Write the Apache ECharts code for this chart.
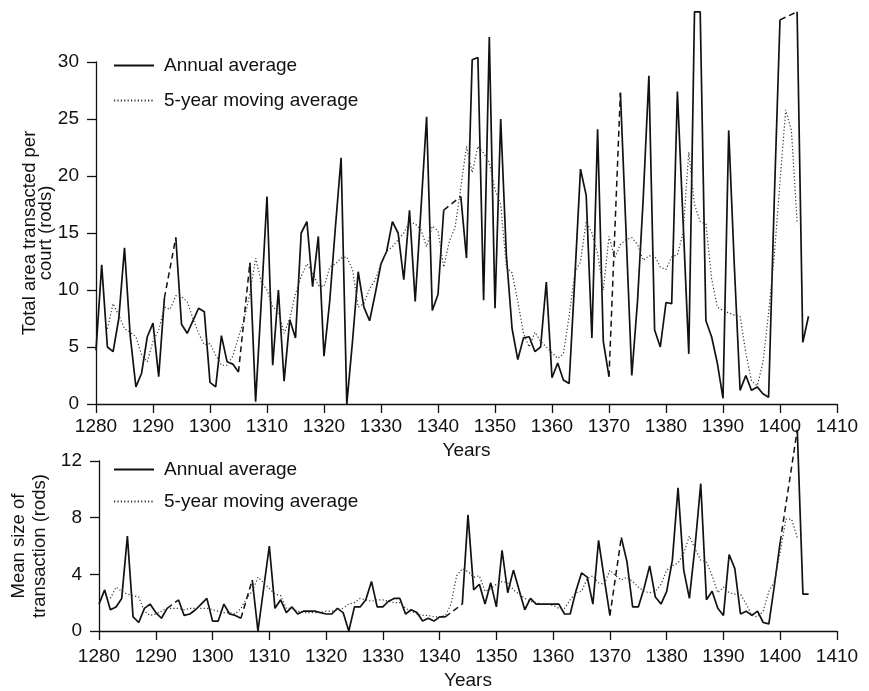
<!DOCTYPE html>
<html>
<head>
<meta charset="utf-8">
<script src="https://cdn.jsdelivr.net/npm/echarts@6/dist/echarts.min.js"></script>
<style>
  html, body { margin: 0; padding: 0; background: #fff; }
  #chart { width: 869px; height: 691px; }
</style>
</head>
<body>
<div id="chart"></div>
<script>
// Years covered by the court rolls series
const years = Array.from({ length: 126 }, (_, i) => 1280 + i);

// Total area transacted per court (rods), annual average; null = no data for that year
const areaAnnual = [
  4.7, 12.2, 5.0, 4.6, 7.5, 13.7, 6.0, 1.5, 2.7, 5.9,
  7.1, 2.4, 9.3, null, 14.6, 7.0, 6.2, 7.3, 8.4, 8.1,
  1.9, 1.5, 6.0, 3.7, 3.5, 2.8, null, 12.4, 0.2, 9.0,
  18.2, 3.4, 10.0, 2.0, 7.4, 5.8, 15.0, 16.0, 10.3, 14.7,
  4.2, 9.0, 15.5, 21.6, 0, 5.5, 11.6, 8.5, 7.3, 9.7,
  12.3, 13.4, 16.0, 15.0, 10.9, 17.0, 9.0, 17.0, 25.2, 8.2,
  9.6, 17.0, null, null, 18.2, 12.8, 30.2, 30.4, 9.1, 32.2,
  8.4, 25.0, 13.0, 6.6, 3.9, 5.8, 5.9, 4.6, 5.0, 10.7,
  2.3, 3.6, 2.1, 1.8, 11.0, 20.6, 18.3, 5.8, 24.1, 5.5,
  2.4, null, 27.3, 15.0, 2.5, 9.0, 18.0, 28.8, 6.5, 5.0,
  8.9, 8.8, 27.4, 16.0, 4.4, 34.4, 34.4, 7.3, 5.9, 3.6,
  0.5, 24.0, 12.0, 1.2, 2.5, 1.2, 1.5, 0.9, 0.6, 18.0,
  33.7, null, null, 34.4, 5.4, 7.7
];

// Total area, 5-year moving average (centred)
const areaMoving = [
  null, null, 6.6, 8.8, 7.8, 6.6, 6.3, 5.9, 4.3, 3.7,
  5.5, 6.5, 8.5, 8.3, 9.5, 9.4, 9.0, 7.5, 6.2, 5.2,
  5.3, 4.3, 3.4, 3.4, 4.2, 5.9, 7.4, 9.7, 12.8, 10.7,
  10.0, 8.5, 8.1, 6.2, 7.5, 9.7, 11.2, 12.3, 11.5, 10.4,
  10.3, 12.0, 12.3, 12.8, 12.9, 11.8, 8.5, 8.8, 10.1, 10.9,
  12.3, 13.4, 13.8, 14.4, 15.0, 16.0, 15.8, 15.3, 13.8, 15.6,
  15.2, 12.0, 14.3, 15.5, 19.0, 22.6, 20.3, 22.6, 22.0, 21.2,
  18.8, 17.5, 12.0, 11.5, 9.0, 6.2, 5.0, 6.3, 5.5, 5.0,
  4.5, 4.0, 4.4, 7.7, 11.5, 12.5, 16.0, 15.0, 13.2, 10.0,
  14.7, 12.8, 14.0, 14.4, 14.6, 14.0, 12.6, 13.0, 13.0, 12.0,
  11.8, 12.9, 13.1, 15.0, 22.1, 17.5, 16.0, 15.8, 11.0, 8.5,
  8.2, 8.0, 7.8, 7.7, 4.5, 2.0, 1.6, 3.6, 8.0, 13.0,
  19.5, 25.8, 24.0, 16.0, null, null
];

// Mean size of transaction (rods), annual average
const sizeAnnual = [
  1.9, 2.9, 1.5, 1.7, 2.3, 6.7, 1.0, 0.6, 1.6, 1.9,
  1.3, 0.9, 1.6, null, 2.2, 1.1, 1.2, 1.5, 1.9, 2.3,
  0.7, 0.7, 1.9, 1.2, 1.1, 0.9, null, 3.6, 0.0, 3.0,
  6.0, 1.6, 2.2, 1.3, 1.7, 1.2, 1.4, 1.4, 1.4, 1.3,
  1.2, 1.2, 1.6, 1.3, 0.0, 1.7, 1.7, 2.2, 3.5, 1.7,
  1.7, 2.1, 2.3, 2.3, 1.2, 1.5, 1.3, 0.7, 0.9, 0.7,
  1.0, 1.0, null, null, 1.9, 8.2, 2.9, 3.3, 1.9, 3.4,
  1.7, 5.7, 2.7, 4.3, 2.9, 1.5, 2.3, 1.9, 1.9, 1.9,
  1.9, 1.9, 1.2, 1.2, 2.8, 4.1, 3.8, 1.9, 6.4, 3.7,
  1.1, null, 6.6, 4.9, 1.7, 1.7, 3.0, 4.6, 2.4, 1.9,
  2.8, 5.0, 10.1, 4.3, 2.3, 6.0, 10.4, 2.2, 2.8, 1.6,
  1.1, 5.4, 4.4, 1.2, 1.4, 1.1, 1.4, 0.6, 0.5, 3.3,
  6.3, null, null, 14.2, 2.6, 2.6
];

// Mean size of transaction, 5-year moving average
const sizeMoving = [
  null, null, 2.3, 3.1, 2.8, 2.6, 2.5, 2.4, 1.4, 1.1,
  1.2, 1.4, 1.6, 1.6, 1.6, 1.5, 1.6, 1.6, 1.6, 1.6,
  1.5, 1.4, 1.3, 1.3, 1.2, 1.6, 2.3, 2.8, 3.8, 3.4,
  3.0, 2.6, 2.5, 1.6, 1.6, 1.4, 1.3, 1.3, 1.3, 1.3,
  1.4, 1.4, 1.5, 1.6, 1.9, 2.0, 2.3, 2.2, 2.1, 2.2,
  2.2, 2.1, 2.0, 2.0, 1.6, 1.4, 1.2, 1.1, 1.1, 1.0,
  1.0, 1.1, 1.9, 3.9, 4.4, 4.2, 3.8, 3.9, 2.8, 3.0,
  3.3, 3.5, 3.4, 2.9, 2.6, 2.3, 2.1, 2.0, 1.9, 1.9,
  1.8, 1.6, 1.6, 2.2, 2.7, 2.8, 3.7, 3.9, 3.4, 3.3,
  4.3, 3.9, 3.6, 3.8, 3.5, 3.1, 2.8, 2.7, 2.8, 3.3,
  4.3, 4.6, 4.8, 5.5, 6.7, 5.8, 5.0, 4.9, 3.9, 2.7,
  3.1, 2.7, 2.6, 2.6, 1.9, 1.1, 1.0, 1.4, 2.8, 3.5,
  5.6, 7.9, 7.9, 6.6, null, null
];

const areaTicks = { min: 0, max: 30, interval: 5 };
const sizeTicks = { min: 0, max: 12, interval: 4 };
const yearTicks = { min: 1280, max: 1410, interval: 10 };

const ANNUAL = 'Annual average';
const MOVING = '5-year moving average';
const FONT = '"Liberation Sans", Arial, sans-serif';
const INK = '#111';

function toPairs(vals) {
  return years.map((y, i) => [y, vals[i] == null ? '-' : vals[i]]);
}

// Dashed bridges over years with no record
function bridgeSeries(vals, axisIndex) {
  const list = [];
  for (let i = 1; i < vals.length; i++) {
    if (vals[i] == null && vals[i - 1] != null) {
      let j = i;
      while (j < vals.length && vals[j] == null) j++;
      if (j < vals.length) {
        list.push({
          type: 'line', name: 'bridge' + axisIndex + '_' + i,
          xAxisIndex: axisIndex, yAxisIndex: axisIndex,
          data: [[years[i - 1], vals[i - 1]], [years[j], vals[j]]],
          symbol: 'none', clip: false, silent: true,
          lineStyle: { color: INK, width: 1.5, type: [6, 4] }
        });
      }
    }
  }
  return list;
}

function panelSeries(annual, moving, idx) {
  return [
    {
      type: 'line', name: ANNUAL, xAxisIndex: idx, yAxisIndex: idx,
      data: toPairs(annual), symbol: 'none', clip: false, connectNulls: false,
      itemStyle: { color: INK },
      lineStyle: { color: INK, width: 1.7 }
    },
    {
      type: 'line', name: MOVING, xAxisIndex: idx, yAxisIndex: idx,
      data: toPairs(moving), symbol: 'none', clip: false,
      itemStyle: { color: '#333' },
      lineStyle: { color: '#333', width: 1.2, type: [1.2, 2.2] }
    },
    ...bridgeSeries(annual, idx)
  ];
}

function xAxisFor(idx, gap, labelMargin) {
  return {
    type: 'value', gridIndex: idx, ...yearTicks,
    name: 'Years', nameLocation: 'middle', nameGap: gap, nameMoveOverlap: false,
    nameTextStyle: { fontFamily: FONT, fontSize: 19, color: INK },
    axisLine: { onZero: false, lineStyle: { color: INK, width: 1.3 } },
    axisTick: { show: true, inside: false, length: 9, lineStyle: { color: INK, width: 1.3 } },
    axisLabel: { fontFamily: FONT, fontSize: 19, color: INK, margin: labelMargin, formatter: v => String(v) },
    splitLine: { show: false }
  };
}

function yAxisFor(idx, ticks, title, gap, lh) {
  return {
    type: 'value', gridIndex: idx, ...ticks,
    name: title, nameLocation: 'middle', nameRotate: 90, nameGap: gap, nameMoveOverlap: false,
    nameTextStyle: { fontFamily: FONT, fontSize: 18.5, color: INK, lineHeight: lh, align: 'center' },
    axisLine: { show: true, lineStyle: { color: INK, width: 1.3 } },
    axisTick: { show: true, inside: false, length: 9, lineStyle: { color: INK, width: 1.3 } },
    axisLabel: { fontFamily: FONT, fontSize: 19, color: INK, margin: 17 },
    splitLine: { show: false }
  };
}

function legendFor(top, gap) {
  return {
    left: 113, top: top, orient: 'vertical', selectedMode: false, padding: 0,
    itemWidth: 40, itemHeight: 14, itemGap: gap,
    itemStyle: { opacity: 0 },
    data: [ANNUAL, MOVING],
    textStyle: { fontFamily: FONT, fontSize: 19, color: INK, padding: [0, 0, 0, 5] }
  };
}

const chart = echarts.init(document.getElementById('chart'), null, { renderer: 'canvas' });
chart.setOption({
  animation: false,
  backgroundColor: '#fff',
  grid: [
    { left: 96, top: 62, width: 741, height: 342 },
    { left: 96, top: 461, width: 741, height: 172 }
  ],
  legend: [legendFor(56, 16), legendFor(460, 13)],
  xAxis: [xAxisFor(0, 37, 13), xAxisFor(1, 40, 16)],
  yAxis: [
    yAxisFor(0, areaTicks, 'Total area transacted per\ncourt (rods)', 42, 16),
    yAxisFor(1, sizeTicks, 'Mean size of\ntransaction (rods)', 49, 21)
  ],
  series: [
    ...panelSeries(areaAnnual, areaMoving, 0),
    ...panelSeries(sizeAnnual, sizeMoving, 1)
  ]
});
</script>
</body>
</html>
